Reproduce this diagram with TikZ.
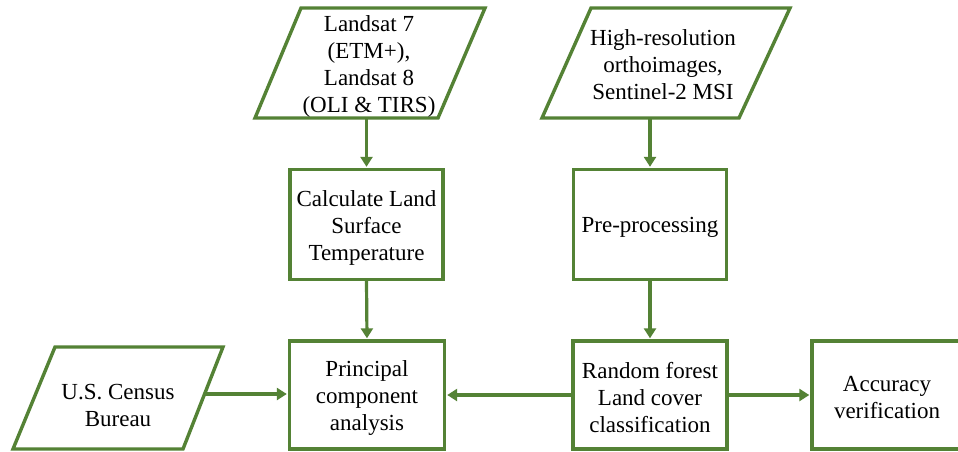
\documentclass[tikz,border=0pt]{standalone}
\usepackage{fontspec}
\setmainfont{Liberation Serif}
\usetikzlibrary{arrows.meta}
\definecolor{G}{RGB}{84,130,53}
\tikzset{
  txt/.style={align=center, inner sep=0pt, font=\fontsize{23}{27}\selectfont, text=black},
  box/.style={draw=G, line width=3.4pt, minimum width=153pt, minimum height=110pt},
  para/.style={draw=G, line width=3.4pt, line join=miter},
  arr/.style={draw=G, line width=3.2pt, -{Triangle[width=12pt,length=10pt]}, shorten >=1pt}
}
\begin{document}
\begin{tikzpicture}[x=1pt, y=-1pt]
\useasboundingbox (0,0) rectangle (958,451);
\clip (0,0) rectangle (958,451);
\fill[white] (0,0) rectangle (958,451);

% parallelograms (inputs)
\draw[para] (255,118) -- (438,118) -- (485,8) -- (301,8) -- cycle;
\node[txt] (p1) at (369,66) {Landsat 7\\(ETM+),\\Landsat 8\\(OLI \& TIRS)};
\coordinate (p1b) at (366.5,118);

\draw[para] (542,118) -- (739,118) -- (790,8) -- (591,8) -- cycle;
\node[txt] (p2) at (663,65) {High-resolution\\orthoimages,\\Sentinel-2 MSI};
\coordinate (p2b) at (650,118);

\draw[para] (13,449) -- (183,449) -- (223,347) -- (55,347) -- cycle;
\node[txt] (census) at (118,405) {U.S. Census\\Bureau};
\coordinate (censusE) at (205,394);

% process boxes
\node[box] (lst) at (366.5,224.5) {};
\node[txt] at (lst.center) [yshift=-3pt] {Calculate Land\\Surface\\Temperature};
\node[box] (pre) at (650,224.5) {};
\node[txt] at (pre.center) [yshift=-3pt] {Pre-processing};
\node[box, minimum width=155pt, minimum height=108pt] (pca) at (367,395) {};
\node[txt] at (pca.center) [yshift=-3pt] {Principal\\component\\analysis};
\node[box, minimum width=154pt, minimum height=108pt] (rf) at (650,395) {};
\node[txt] at (rf.center) [yshift=-3pt] {Random forest\\Land cover\\classification};
\node[box, minimum width=150pt, minimum height=108pt] (acc) at (887,395) {};
\node[txt] at (acc.center) [yshift=-3pt] {Accuracy\\verification};

% connectors
\draw[arr] (p1b) -- (lst.north);
\draw[arr] (p2b) -- (pre.north);
\draw[arr] (lst.south) -- (pca.north);
\draw[arr] (pre.south) -- (rf.north);
\draw[arr] (censusE) -- (censusE -| pca.west);
\draw[arr] (rf.west) -- (pca.east);
\draw[arr] (rf.east) -- (acc.west);
\end{tikzpicture}
\end{document}
